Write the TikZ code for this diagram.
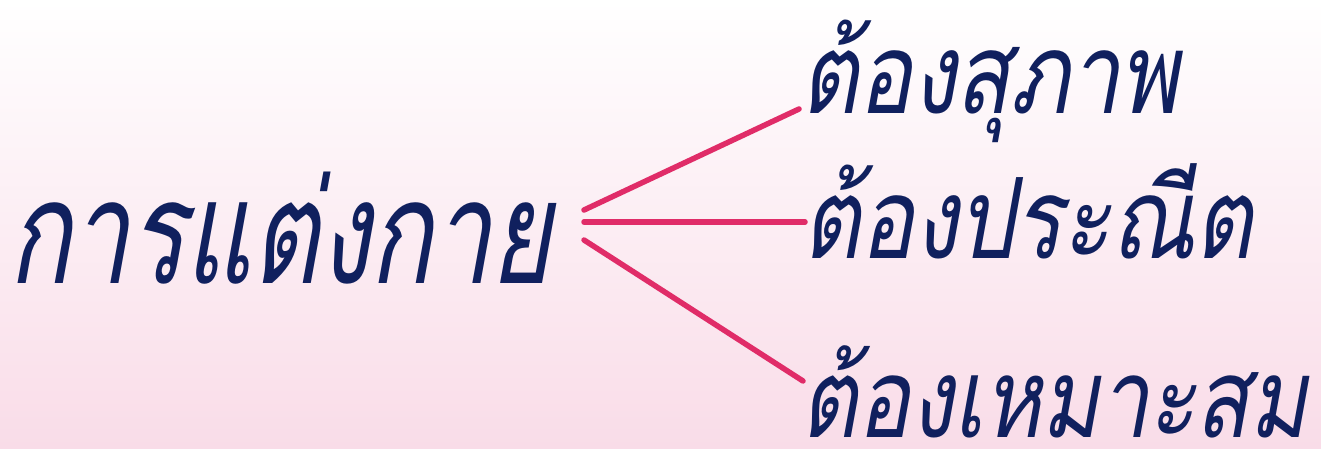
\documentclass[tikz,border=0pt]{standalone}
\usepackage{fontspec}
\newfontfamily\thaimain[Script=Thai,FakeSlant=0.18,FakeStretch=0.72]{Loma}
\newfontfamily\thaisub[Script=Thai,FakeSlant=0.18,FakeStretch=0.8]{Loma}
\definecolor{navy}{HTML}{10205E}
\definecolor{linkpink}{HTML}{E02C68}
\definecolor{bgtop}{HTML}{FFFFFF}
\definecolor{bgbot}{HTML}{F9DCE8}
\tikzset{
  thaitext/.style={inner sep=0pt, anchor=base west, text=navy},
  link/.style={draw=linkpink, line width=5.5pt, line cap=round},
}
\begin{document}
\begin{tikzpicture}[x=1pt,y=-1pt]
\shade[top color=bgtop, bottom color=bgbot] (0,0) rectangle (1321,448);
\useasboundingbox (0,0) rectangle (1321,448);
\node[thaitext, font=\thaimain\fontsize{144}{144}\selectfont] (root) at (8,283) {การแต่งกาย};
\node[thaitext, font=\thaisub\fontsize{112}{112}\selectfont] (a) at (800,113) {ต้องสุภาพ};
\node[thaitext, font=\thaisub\fontsize{112}{112}\selectfont] (b) at (802,258) {ต้องประณีต};
\node[thaitext, font=\thaisub\fontsize{110}{110}\selectfont] (c) at (800,437) {ต้องเหมาะสม};
\coordinate (h1) at (584,210);
\coordinate (h2) at (584,222);
\coordinate (h3) at (584,240);
\coordinate (e1) at (799,109);
\coordinate (e2) at (805,222);
\coordinate (e3) at (803,381);
\draw[link] (h1) -- (e1);
\draw[link] (h2) -- (e2);
\draw[link] (h3) -- (e3);
\end{tikzpicture}
\end{document}
